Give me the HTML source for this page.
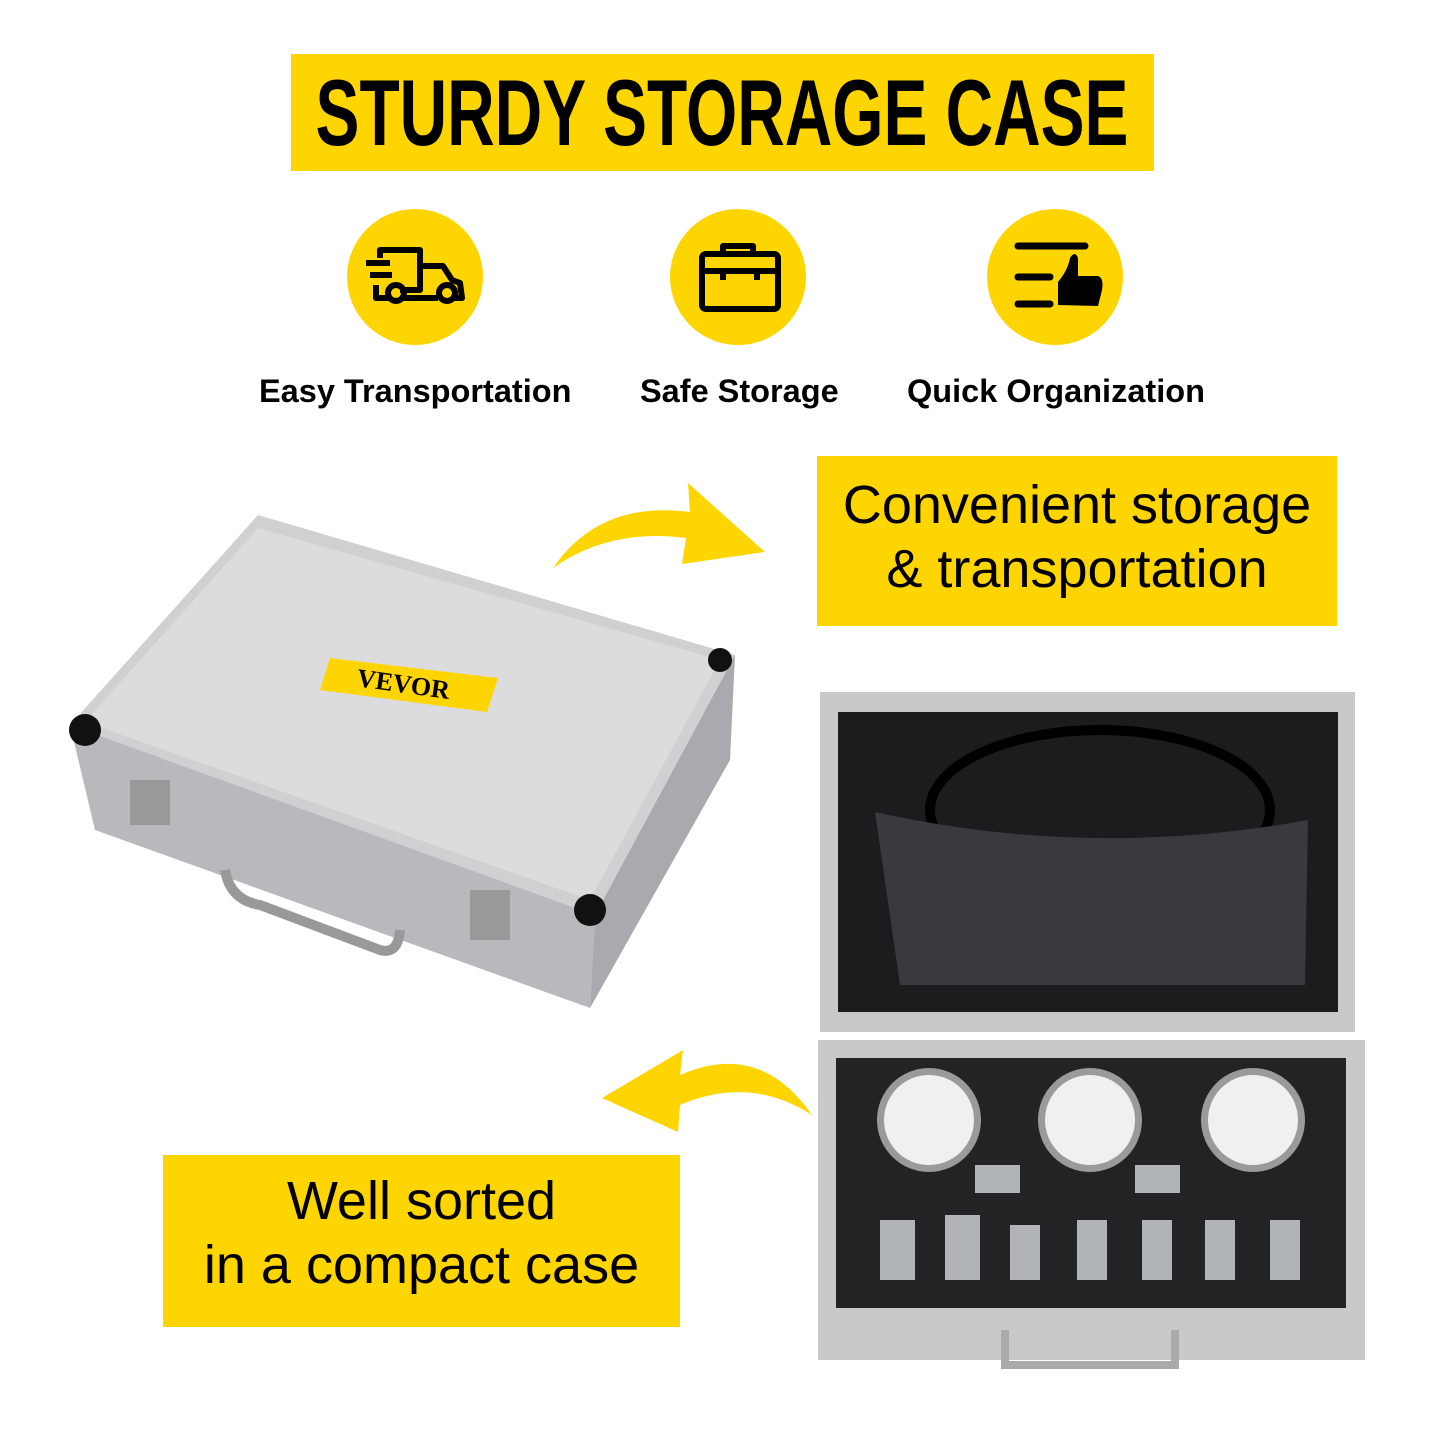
<!DOCTYPE html>
<html><head><meta charset="utf-8"><style>
body{margin:0;width:1445px;height:1445px;background:#fff;position:relative;overflow:hidden;font-family:"Liberation Sans",sans-serif}
.box{position:absolute;background:#ffd500;color:#000;text-align:center}
.lbl{position:absolute;top:373px;font-weight:bold;font-size:32.5px;white-space:nowrap}
</style></head><body>
<div class="box" style="left:291px;top:54px;width:863px;height:117px;"></div>
<div style="position:absolute;left:722px;top:54px;width:0;height:117px;">
<div style="position:absolute;left:0;top:0;transform:translateX(-50%) scaleX(0.70);font-weight:bold;font-size:94px;line-height:117px;white-space:nowrap">STURDY STORAGE CASE</div></div>

<svg width="1445" height="1445" style="position:absolute;left:0;top:0">
<circle cx="415" cy="277" r="68" fill="#ffd500"/>
<circle cx="738" cy="277" r="68" fill="#ffd500"/>
<circle cx="1055" cy="277" r="68" fill="#ffd500"/>
<g fill="none" stroke="#000" stroke-width="6" stroke-linejoin="round">
<path d="M380 258 V250 H420 V290 H400"/><path d="M420 266 H443 L452 280 L460 283 L462 298 H452"/>
<path d="M376 285 V298 H388"/><circle cx="396" cy="293" r="8"/><circle cx="447" cy="293" r="8"/>
<path d="M404 298 H438"/>
<path d="M366 263 H390 M370 275 H392"/>
</g>
<g fill="none" stroke="#000" stroke-width="6" stroke-linejoin="round">
<rect x="702" y="254" width="76" height="55" rx="4"/><path d="M702 271 H778"/>
<path d="M723 254 V246 H753 V254"/><path d="M723 271 V280 M757 271 V280"/>
</g>
<g stroke="#000" stroke-width="7" stroke-linecap="round">
<path d="M1018 246 H1085 M1018 277 H1050 M1018 304 H1050"/></g>
<path d="M1058 305 V282 Q1068 270 1070 258 Q1075 250 1078 258 V276 H1098 Q1104 278 1102 290 L1098 306 Z" fill="#000"/>
<path d="M553 568 Q600 500 690 512 L688 483 L765 552 L682 564 L686 538 Q610 528 553 568 Z" fill="#ffd500"/>
<path d="M812 1115 Q760 1040 680 1075 L683 1050 L602 1098 L678 1132 L680 1105 Q750 1075 812 1115 Z" fill="#ffd500"/>
<polygon points="70,725 258,515 735,655 595,915" fill="#cfd0d2"/>
<polygon points="70,725 595,915 590,1008 95,830" fill="#b8b9bc"/>
<polygon points="595,915 735,655 730,760 590,1008" fill="#a9aaad"/>
<polygon points="85,722 258,528 720,660 590,900" fill="#dcdcde"/>
<circle cx="85" cy="730" r="16" fill="#111"/><circle cx="590" cy="910" r="16" fill="#111"/><circle cx="720" cy="660" r="12" fill="#111"/>
<polygon points="330,658 498,678 487,712 320,690" fill="#ffd500"/>
<text x="356" y="686" font-family="Liberation Serif,serif" font-weight="bold" font-size="26" transform="rotate(8 356 686)">VEVOR</text>
<path d="M225 870 Q230 900 260 905 L380 950 Q398 955 400 930" fill="none" stroke="#999" stroke-width="10"/>
<rect x="130" y="780" width="40" height="45" fill="#999"/><rect x="470" y="890" width="40" height="50" fill="#999"/>
<rect x="820" y="692" width="535" height="340" fill="#c8c9cb"/>
<rect x="838" y="712" width="500" height="300" fill="#1c1c1e"/>
<ellipse cx="1100" cy="810" rx="170" ry="80" fill="none" stroke="#000" stroke-width="10"/>
<path d="M875 812 Q1090 860 1308 820 L1305 985 L900 985 Z" fill="#3a3a3e"/>
<rect x="818" y="1040" width="547" height="320" fill="#c8c9cb"/>
<rect x="836" y="1058" width="510" height="250" fill="#232325"/>
<circle cx="929" cy="1120" r="52" fill="#9a9a9a"/><circle cx="929" cy="1120" r="45" fill="#f0f0f0"/>
<circle cx="1090" cy="1120" r="52" fill="#9a9a9a"/><circle cx="1090" cy="1120" r="45" fill="#f0f0f0"/>
<circle cx="1253" cy="1120" r="52" fill="#9a9a9a"/><circle cx="1253" cy="1120" r="45" fill="#f0f0f0"/>
<g fill="#b0b3b8"><rect x="880" y="1220" width="35" height="60"/><rect x="945" y="1215" width="35" height="65"/><rect x="1010" y="1225" width="30" height="55"/><rect x="1077" y="1220" width="30" height="60"/><rect x="1142" y="1220" width="30" height="60"/><rect x="1205" y="1220" width="30" height="60"/><rect x="1270" y="1220" width="30" height="60"/>
<rect x="975" y="1165" width="45" height="28"/><rect x="1135" y="1165" width="45" height="28"/></g>
<path d="M1005 1330 V1365 H1175 V1330" fill="none" stroke="#aaa" stroke-width="8"/>
</svg>

<div class="lbl" style="left:259px">Easy Transportation</div>
<div class="lbl" style="left:640px">Safe Storage</div>
<div class="lbl" style="left:907px">Quick Organization</div>

<div class="box" style="left:817px;top:456px;width:520px;height:170px;font-size:54px;line-height:64px;padding-top:17px;box-sizing:border-box;white-space:nowrap">Convenient storage<br>&amp; transportation</div>
<div class="box" style="left:163px;top:1155px;width:517px;height:172px;font-size:54px;line-height:64px;padding-top:14px;box-sizing:border-box;white-space:nowrap">Well sorted<br>in a compact case</div>
</body></html>
